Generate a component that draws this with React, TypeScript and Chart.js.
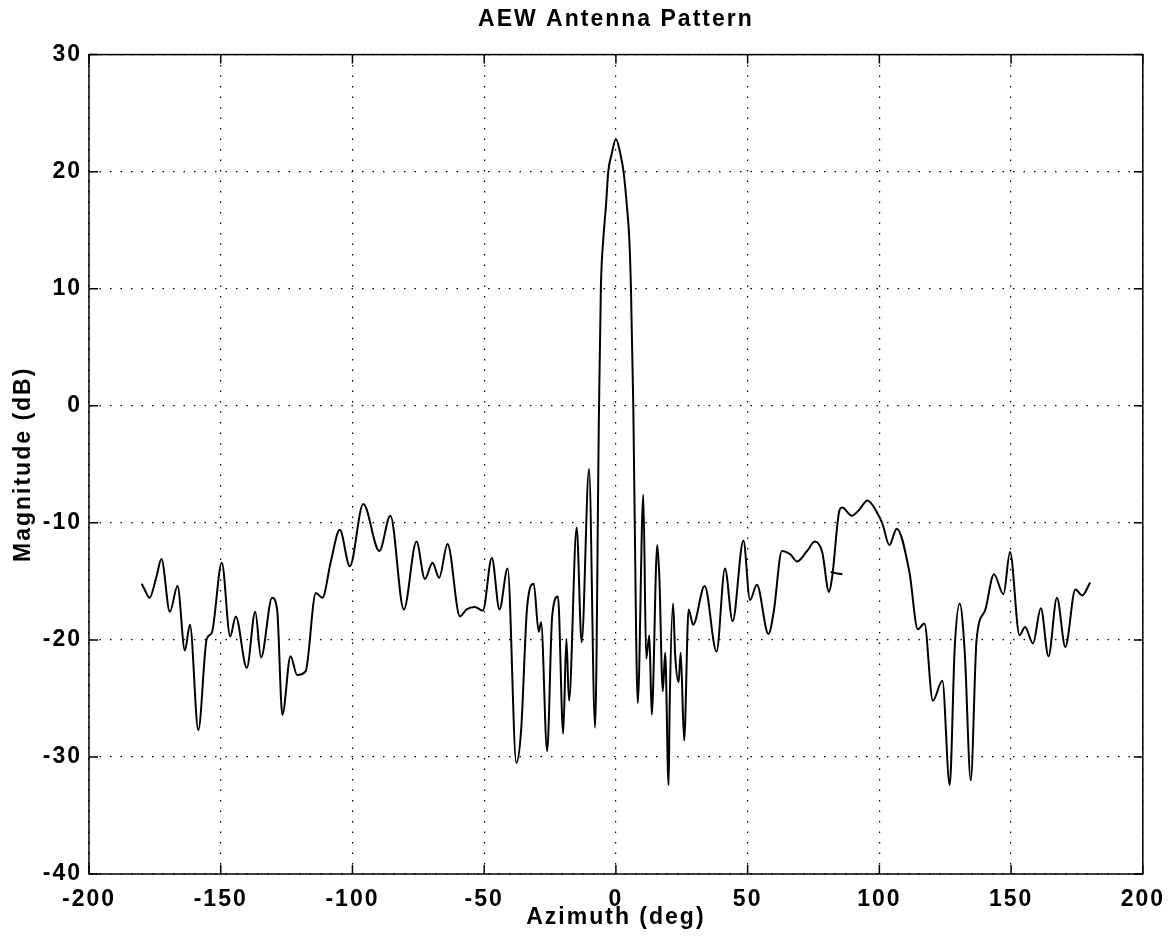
import React, { useEffect, useRef } from 'react';
import { Chart, registerables } from 'chart.js';

Chart.register(...registerables);

// Azimuth (deg) and magnitude (dB)
const azimuthDeg = [
  -180, -178.9, -177.0, -174.4, -172.5, -169.3, -166.4, -163.6, -161.7, -158.5,
  -155.3, -153.4, -149.6, -146.4, -144.3, -140.1, -136.9, -134.7, -130.5, -128.6,
  -126.6, -123.5, -121.0, -117.8, -113.9, -111.4, -108.2, -104.8, -101.0, -95.9,
  -89.8, -85.6, -80.5, -75.7, -72.5, -69.6, -67.1, -63.9, -59.2, -56.7,
  -53.5, -50.5, -47.1, -44.2, -41.1, -37.8, -36.0, -33.7, -31.2, -29.3,
  -28.4, -26.1, -24.2, -22.0, -20.0, -18.8, -17.8, -14.9, -13.0, -10.2,
  -7.9, -6.4, -5.7, -4.8, -3.8, -2.9, -1.6, 0, 1.9, 2.9,
  4.2, 5.1, 5.7, 6.6, 7.0, 8.3, 10.4, 11.5, 12.7, 13.6,
  15.7, 16.5, 17.8, 18.7, 20.0, 20.4, 21.7, 22.5, 23.8, 24.6,
  25.9, 27.6, 29.3, 33.7, 38.2, 41.4, 44.3, 48.4, 50.9, 53.5,
  57.9, 59.9, 63.0, 66.2, 68.8, 72.6, 75.5, 78.3, 80.9, 82.1,
  84.9, 85.9, 89.5, 92.3, 95.5, 99.3, 101.2, 103.8, 106.6, 111.4,
  114.6, 117.1, 120.3, 123.9, 126.7, 128.6, 130.5, 132.4, 134.7, 136.9,
  140.1, 143.5, 147.1, 149.6, 153.2, 155.3, 158.3, 161.3, 164.2, 167.4,
  170.6, 174.4, 177.0, 180,
];

const magnitudeDb = [
  -15.2, -15.7, -16.4, -14.6, -13.1, -17.6, -15.4, -20.9, -18.7, -27.7,
  -19.9, -19.4, -13.4, -19.7, -18.0, -22.4, -17.6, -21.5, -16.4, -17.4,
  -26.4, -21.4, -23.0, -22.7, -16.0, -16.4, -13.3, -10.6, -13.7, -8.4,
  -12.4, -9.4, -17.4, -11.6, -14.8, -13.4, -14.7, -11.8, -18.0, -17.4,
  -17.2, -17.5, -13.0, -17.4, -13.9, -30.5, -27.8, -17.2, -15.2, -19.3,
  -18.5, -29.5, -18.0, -16.3, -28.0, -19.9, -25.2, -10.4, -20.2, -5.4,
  -27.5, 0, 10.1, 14.2, 17.0, 20.0, 21.5, 22.8, 21.3, 20.0,
  17.0, 14.2, 10.1, 0, -7.3, -25.4, -7.6, -21.6, -19.6, -26.4,
  -11.9, -14.7, -24.4, -21.1, -32.4, -25.7, -16.9, -21.3, -23.6, -21.1,
  -28.6, -17.4, -18.7, -15.4, -21.0, -13.9, -18.4, -11.5, -16.6, -15.3,
  -19.5, -17.6, -12.4, -12.7, -13.3, -12.4, -11.6, -12.5, -15.9, -14.6,
  -8.9, -8.7, -9.4, -8.9, -8.1, -9.2, -10.1, -11.9, -10.5, -14.2,
  -19.1, -18.6, -25.2, -23.5, -32.4, -20.7, -16.9, -21.0, -32.0, -20.0,
  -17.5, -14.4, -16.1, -12.5, -19.6, -18.9, -20.3, -17.3, -21.4, -16.4,
  -20.6, -15.7, -16.2, -15.1,
];

// small stray pen mark near 83 deg
const markAz = [81.5, 83.5, 86.0];
const markDb = [-14.2, -14.3, -14.4];

const xTickValues = [-200, -150, -100, -50, 0, 50, 100, 150, 200];
const yTickValues = [-40, -30, -20, -10, 0, 10, 20, 30];

const chartTitle = 'AEW Antenna Pattern';
const xTitle = 'Azimuth (deg)';
const yTitle = 'Magnitude (dB)';

const FONT = "'Liberation Sans', Arial, Helvetica, sans-serif";

const framePlugin = {
  id: 'matlabFrame',
  beforeDraw(chart: any) {
    try {
      chart.ctx.letterSpacing = '2px';
    } catch (e) {}
  },
  afterDatasetsDraw(chart: any) {
    const { ctx, chartArea, scales } = chart;
    const { left, right, top, bottom } = chartArea;
    const xs = scales.x;
    const ys = scales.y;
    ctx.save();
    ctx.strokeStyle = '#000';
    ctx.lineWidth = 1.5;
    ctx.setLineDash([]);
    ctx.strokeRect(left, top, right - left, bottom - top);
    const len = 9;
    ctx.beginPath();
    xTickValues.forEach((v) => {
      const px = xs.getPixelForValue(v);
      ctx.moveTo(px, bottom);
      ctx.lineTo(px, bottom - len);
      ctx.moveTo(px, top);
      ctx.lineTo(px, top + len);
    });
    yTickValues.forEach((v) => {
      const py = ys.getPixelForValue(v);
      ctx.moveTo(left, py);
      ctx.lineTo(left + len, py);
      ctx.moveTo(right, py);
      ctx.lineTo(right - len, py);
    });
    ctx.stroke();
    ctx.restore();
  },
};

export default function App() {
  const canvasRef = useRef<HTMLCanvasElement | null>(null);

  useEffect(() => {
    const canvas = canvasRef.current;
    if (!canvas) return;
    const mainData = azimuthDeg.map((a, i) => ({ x: a, y: magnitudeDb[i] }));
    const markData = markAz.map((a, i) => ({ x: a, y: markDb[i] }));
    const chart = new Chart(canvas, {
      type: 'line',
      data: {
        datasets: [
          {
            label: 'Pattern',
            data: mainData,
            borderColor: '#000',
            borderWidth: 2,
            pointRadius: 0,
            cubicInterpolationMode: 'monotone',
            fill: false,
          },
          {
            label: 'mark',
            data: markData,
            borderColor: '#000',
            borderWidth: 2,
            pointRadius: 0,
            fill: false,
          },
        ],
      },
      options: {
        animation: false,
        responsive: false,
        devicePixelRatio: 1,
        layout: { padding: { top: 0, right: 29, bottom: 0, left: 0 } },
        plugins: {
          legend: { display: false },
          tooltip: { enabled: false },
          title: {
            display: true,
            text: chartTitle,
            fullSize: false,
            color: '#000',
            font: { family: FONT, size: 23, weight: 'bold', lineHeight: 1.2 },
            padding: { top: 6, bottom: 21 },
          },
        },
        scales: {
          x: {
            type: 'linear',
            min: -200,
            max: 200,
            afterBuildTicks: (scale: any) => {
              scale.ticks = xTickValues.map((v) => ({ value: v }));
            },
            afterFit: (scale: any) => {
              scale.height = 71;
            },
            ticks: {
              autoSkip: false,
              maxRotation: 0,
              padding: 12,
              color: '#000',
              font: { family: FONT, size: 23, weight: 'bold', lineHeight: 1.2 },
            },
            grid: {
              color: '#000',
              lineWidth: 1.2,
              drawTicks: false,
            },
            border: { display: false, dash: [1.5, 9] },
            title: {
              display: true,
              text: xTitle,
              color: '#000',
              font: { family: FONT, size: 23, weight: 'bold', lineHeight: 1.2 },
              padding: { top: 0, bottom: 14 },
            },
          },
          y: {
            type: 'linear',
            min: -40,
            max: 30,
            afterBuildTicks: (scale: any) => {
              scale.ticks = yTickValues.map((v) => ({ value: v }));
            },
            afterFit: (scale: any) => {
              scale.width = 89;
            },
            ticks: {
              autoSkip: false,
              padding: 7,
              color: '#000',
              font: { family: FONT, size: 23, weight: 'bold', lineHeight: 1.2 },
            },
            grid: {
              color: '#000',
              lineWidth: 1.2,
              drawTicks: false,
            },
            border: { display: false, dash: [1.5, 9] },
            title: {
              display: true,
              text: yTitle,
              color: '#000',
              font: { family: FONT, size: 23, weight: 'bold', lineHeight: 1.2 },
              padding: { top: 10, bottom: 0 },
            },
          },
        },
      },
      plugins: [framePlugin],
    } as any);
    return () => chart.destroy();
  }, []);

  return (
    <div style={{ position: 'fixed', left: 0, top: 0, width: 1174, height: 945, background: '#fff' }}>
      <canvas ref={canvasRef} width={1174} height={945} style={{ display: 'block', width: 1174, height: 945 }} />
    </div>
  );
}
